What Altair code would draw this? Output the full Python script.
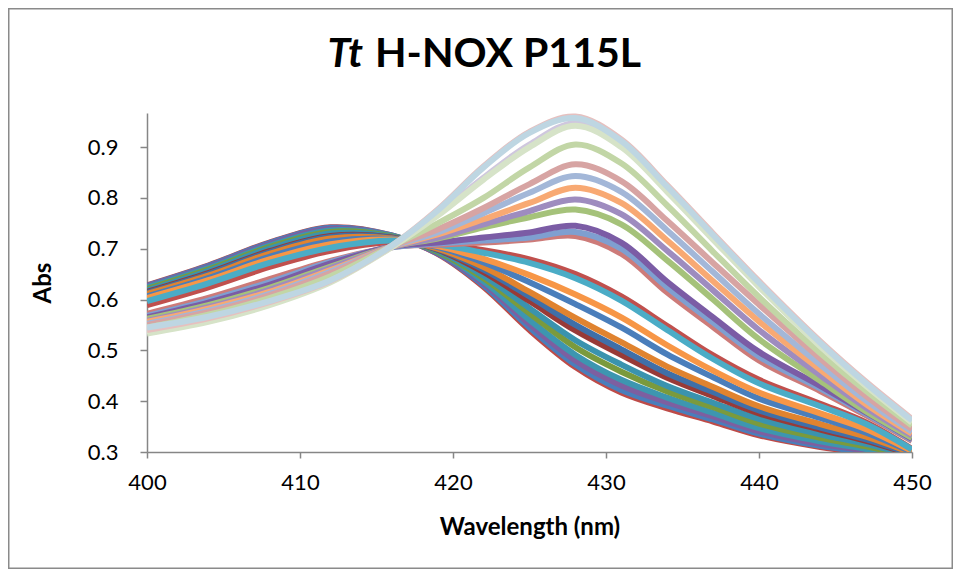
import altair as alt
import pandas as pd

# Wavelength sample points (nm)
wavelength = [400, 404, 408, 412, 416, 419, 422, 425, 428, 431, 434, 437, 440, 444, 447, 450]

# Early spectra (Soret near 412 nm), bottom to top at 428 nm
E00 = [0.628, 0.667, 0.712, 0.742, 0.726, 0.690, 0.625, 0.540, 0.467, 0.417, 0.386, 0.360, 0.333, 0.310, 0.298, 0.288]
E01 = [0.627, 0.666, 0.711, 0.741, 0.726, 0.691, 0.628, 0.545, 0.472, 0.422, 0.391, 0.364, 0.336, 0.312, 0.300, 0.289]
E02 = [0.626, 0.664, 0.709, 0.739, 0.725, 0.691, 0.632, 0.552, 0.480, 0.431, 0.398, 0.370, 0.341, 0.316, 0.303, 0.289]
E03 = [0.624, 0.662, 0.706, 0.736, 0.725, 0.693, 0.636, 0.560, 0.491, 0.442, 0.407, 0.377, 0.347, 0.321, 0.306, 0.290]
E04 = [0.621, 0.659, 0.703, 0.733, 0.724, 0.694, 0.642, 0.573, 0.506, 0.458, 0.419, 0.388, 0.356, 0.328, 0.311, 0.292]
E05 = [0.618, 0.656, 0.700, 0.730, 0.723, 0.696, 0.647, 0.583, 0.520, 0.472, 0.430, 0.397, 0.365, 0.335, 0.316, 0.293]
E06 = [0.615, 0.652, 0.695, 0.725, 0.722, 0.698, 0.654, 0.597, 0.539, 0.491, 0.446, 0.410, 0.376, 0.344, 0.322, 0.295]
E07 = [0.613, 0.650, 0.693, 0.723, 0.721, 0.699, 0.659, 0.606, 0.550, 0.502, 0.455, 0.418, 0.382, 0.348, 0.325, 0.296]
E08 = [0.611, 0.647, 0.690, 0.720, 0.720, 0.700, 0.664, 0.615, 0.564, 0.516, 0.468, 0.428, 0.390, 0.355, 0.330, 0.298]
E09 = [0.606, 0.642, 0.684, 0.714, 0.719, 0.703, 0.673, 0.634, 0.591, 0.545, 0.492, 0.447, 0.405, 0.367, 0.338, 0.300]
E10 = [0.603, 0.638, 0.679, 0.709, 0.718, 0.705, 0.680, 0.648, 0.610, 0.565, 0.510, 0.460, 0.417, 0.376, 0.345, 0.302]
E11 = [0.589, 0.624, 0.664, 0.696, 0.713, 0.709, 0.697, 0.679, 0.650, 0.606, 0.548, 0.490, 0.442, 0.395, 0.358, 0.306]
E12 = [0.597, 0.632, 0.672, 0.702, 0.716, 0.708, 0.692, 0.672, 0.642, 0.598, 0.540, 0.483, 0.435, 0.390, 0.355, 0.305]

# Late spectra (Soret near 428 nm), bottom to top at 428 nm
L00 = [0.572, 0.603, 0.640, 0.676, 0.703, 0.708, 0.712, 0.718, 0.725, 0.690, 0.614, 0.546, 0.480, 0.420, 0.372, 0.322]
L01 = [0.568, 0.598, 0.634, 0.674, 0.703, 0.710, 0.716, 0.722, 0.733, 0.700, 0.624, 0.555, 0.488, 0.425, 0.375, 0.324]
L02 = [0.565, 0.594, 0.629, 0.671, 0.704, 0.712, 0.722, 0.732, 0.745, 0.712, 0.635, 0.565, 0.497, 0.430, 0.378, 0.326]
L03 = [0.562, 0.589, 0.623, 0.665, 0.704, 0.720, 0.742, 0.762, 0.777, 0.748, 0.677, 0.600, 0.522, 0.440, 0.380, 0.328]
L04 = [0.558, 0.585, 0.619, 0.662, 0.704, 0.722, 0.748, 0.774, 0.797, 0.768, 0.696, 0.618, 0.540, 0.451, 0.387, 0.332]
L05 = [0.556, 0.582, 0.615, 0.658, 0.704, 0.728, 0.758, 0.790, 0.820, 0.790, 0.716, 0.636, 0.557, 0.462, 0.394, 0.336]
L06 = [0.552, 0.578, 0.611, 0.655, 0.704, 0.732, 0.770, 0.810, 0.843, 0.812, 0.736, 0.654, 0.572, 0.472, 0.401, 0.340]
L07 = [0.550, 0.575, 0.608, 0.652, 0.705, 0.738, 0.780, 0.827, 0.866, 0.833, 0.755, 0.672, 0.590, 0.484, 0.410, 0.345]
L08 = [0.545, 0.570, 0.603, 0.646, 0.705, 0.750, 0.800, 0.860, 0.905, 0.868, 0.785, 0.694, 0.605, 0.495, 0.420, 0.352]
L09 = [0.538, 0.561, 0.593, 0.636, 0.704, 0.768, 0.840, 0.905, 0.947, 0.905, 0.816, 0.721, 0.628, 0.511, 0.432, 0.360]
L10 = [0.533, 0.556, 0.589, 0.634, 0.703, 0.765, 0.836, 0.900, 0.942, 0.900, 0.812, 0.718, 0.625, 0.508, 0.430, 0.358]
L11 = [0.540, 0.563, 0.595, 0.637, 0.706, 0.777, 0.862, 0.930, 0.960, 0.915, 0.825, 0.730, 0.636, 0.518, 0.438, 0.365]
L12 = [0.545, 0.566, 0.597, 0.638, 0.706, 0.775, 0.860, 0.928, 0.957, 0.912, 0.822, 0.727, 0.633, 0.515, 0.435, 0.362]

series_values = [E00, E01, E02, E03, E04, E05, E06, E07, E08, E09, E10, E11, E12,
                 L00, L01, L02, L03, L04, L05, L06, L07, L08, L09, L10, L11, L12]
series_colors = ["#BE4B48", "#4A7EBB", "#7D5FA0", "#3D96B0", "#7A9A3D", "#3A93AE", "#983A37",
                 "#3F6FA8", "#E0832F", "#4A7EBB", "#F79646", "#C0504D", "#4BACC6",
                 "#CD7B79", "#7F9FD0", "#7B5CA5", "#A5C27A", "#9E8CBF", "#F8A973", "#A3B7D8",
                 "#D7A4A3", "#C2D6A6", "#CFC7DE", "#D6E3C8", "#E6C0BF", "#BED6E2"]
series_names = ["s%02d" % i for i in range(len(series_values))]

x_ticks = [400, 410, 420, 430, 440, 450]
y_ticks = [0.3, 0.4, 0.5, 0.6, 0.7, 0.8, 0.9]

rows = []
for name, vals in zip(series_names, series_values):
    for w, v in zip(wavelength, vals):
        rows.append({"series": name, "wl": w, "abs": v})
df = pd.DataFrame(rows)

FONT = "Lato"
AX = "#868686"

lines = alt.Chart(df).mark_line(strokeWidth=6, interpolate="catmull-rom", clip=True).encode(
    x=alt.X("wl:Q", scale=alt.Scale(domain=[400, 450], nice=False, zero=False),
            axis=alt.Axis(values=x_ticks, title="Wavelength (nm)", grid=False,
                          labelFont=FONT, labelFontSize=22, labelColor="black",
                          titleFont=FONT, titleFontSize=24, titleFontWeight="bold", titleColor="black",
                          domainColor=AX, domainWidth=1.5, tickColor=AX, tickWidth=1.5, tickSize=6,
                          labelPadding=14, titlePadding=22, labelFlush=False)),
    y=alt.Y("abs:Q", scale=alt.Scale(domain=[0.3, 0.967], nice=False, zero=False),
            axis=alt.Axis(values=y_ticks, format=".1f", title="Abs", grid=False,
                          labelFont=FONT, labelFontSize=22, labelColor="black",
                          titleFont=FONT, titleFontSize=24, titleFontWeight="bold", titleColor="black",
                          domainColor=AX, domainWidth=1.5, tickColor=AX, tickWidth=1.5, tickSize=7,
                          labelPadding=22, titlePadding=32, labelFlush=False)),
    color=alt.Color("series:N", scale=alt.Scale(domain=series_names, range=series_colors), legend=None),
    order=alt.Order("wl:Q"),
)

title_a = alt.Chart(pd.DataFrame({"t": ["Tt"]})).mark_text(
    font=FONT, fontSize=41, fontWeight="bold", fontStyle="italic", align="right",
    baseline="alphabetic", color="black").encode(x=alt.value(216), y=alt.value(-46), text="t:N")
title_b = alt.Chart(pd.DataFrame({"t": ["H-NOX P115L"]})).mark_text(
    font=FONT, fontSize=41, fontWeight="bold", align="left",
    baseline="alphabetic", color="black").encode(x=alt.value(228), y=alt.value(-46), text="t:N")

frame = alt.Chart(pd.DataFrame({"k": [0]})).mark_rect(
    fill=None, stroke="#8a8a8a", strokeWidth=1.5).encode(
    x=alt.value(-138.25), x2=alt.value(805.25), y=alt.value(-104.25), y2=alt.value(455.25))

chart = alt.layer(frame, lines, title_a, title_b).properties(
    width=765, height=339,
    autosize=alt.AutoSizeParams(type="none"),
    padding={"left": 139, "top": 105, "right": 41, "bottom": 117},
    background="white",
).configure_view(stroke=None)

chart.save("out.html", embed_options={"renderer": "svg", "actions": False})
